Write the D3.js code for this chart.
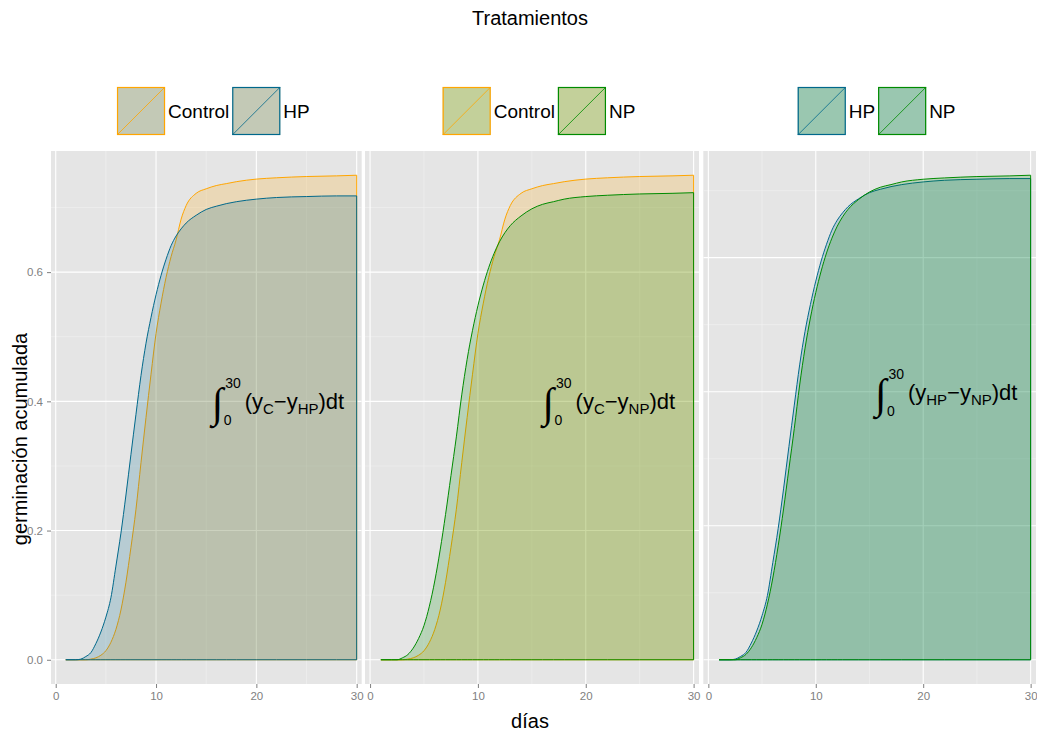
<!DOCTYPE html>
<html>
<head>
<meta charset="utf-8">
<script src="https://cdn.jsdelivr.net/npm/d3@7"></script>
<style>
  body { margin: 0; background: #ffffff; }
  text { font-family: "Liberation Sans", Arial, sans-serif; }
</style>
</head>
<body>
<svg id="chart" width="1037" height="735"></svg>
<script>
// Cumulative germination per treatment (fraction germinated by day)
const days = [1, 2, 2.5, 3, 3.5, 4, 4.5, 5, 5.5, 6, 6.5, 7, 7.5, 8, 8.5, 9, 9.5, 10, 10.5, 11, 11.5, 12, 12.5, 13, 14, 15, 16, 17, 18, 20, 22, 25, 28, 30];
const control = [0, 0, 0, 0, 0.001, 0.003, 0.007, 0.014, 0.027, 0.047, 0.077, 0.12, 0.174, 0.233, 0.305, 0.375, 0.442, 0.505, 0.552, 0.592, 0.624, 0.65, 0.682, 0.703, 0.722, 0.729, 0.734, 0.737, 0.740, 0.744, 0.746, 0.748, 0.749, 0.75];
const hp = [0, 0, 0.001, 0.005, 0.011, 0.025, 0.043, 0.066, 0.096, 0.145, 0.196, 0.255, 0.318, 0.38, 0.44, 0.49, 0.53, 0.565, 0.595, 0.62, 0.641, 0.656, 0.667, 0.676, 0.688, 0.697, 0.702, 0.706, 0.709, 0.713, 0.7155, 0.717, 0.718, 0.718];
const np = [0, 0, 0, 0.003, 0.008, 0.018, 0.033, 0.053, 0.083, 0.122, 0.17, 0.225, 0.285, 0.345, 0.41, 0.465, 0.51, 0.548, 0.58, 0.607, 0.629, 0.647, 0.661, 0.672, 0.687, 0.698, 0.705, 0.709, 0.713, 0.717, 0.719, 0.721, 0.722, 0.723];

const treatments = ["Control", "HP", "NP"];
const subscripts = ["C", "HP", "NP"];
const values = { Control: control, HP: hp, NP: np };
const colors = { Control: "#FFA500", HP: "#00688B", NP: "#008B00" };

// Pairwise comparisons, one per panel
const pairs = [["Control", "HP"], ["Control", "NP"], ["HP", "NP"]];

const xTicks = [0, 10, 20, 30];
const xMinor = [5, 15, 25];
const yTicks = [0, 0.2, 0.4, 0.6];
const yMinor = [0.1, 0.3, 0.5, 0.7];
const yTickLabels = ["0.0", "0.2", "0.4", "0.6"];

const titleText = "Tratamientos";
const xTitle = "días";
const yTitle = "germinación acumulada";

// ---- layout ----
const panelBoxes = [
  { x0: 51, x1: 361.7 },
  { x0: 365, x1: 699 },
  { x0: 703.3, x1: 1036 }
];
const panelTop = 151, panelBottom = 684;
const fillAlpha = 0.2;

const svg = d3.select("#chart");
const subOf = name => subscripts[treatments.indexOf(name)];

pairs.forEach((pair, pi) => {
  const box = panelBoxes[pi];
  const x = d3.scaleLinear().domain([-0.47, 30.5]).range([box.x0, box.x1]);
  const ymax = d3.max(pair, k => d3.max(values[k]));
  const y = d3.scaleLinear().domain([-0.05 * ymax, ymax * 1.05]).range([panelBottom, panelTop]);

  const g = svg.append("g");
  const clipId = "clip" + pi;
  svg.append("clipPath").attr("id", clipId).append("rect")
    .attr("x", box.x0).attr("y", panelTop)
    .attr("width", box.x1 - box.x0).attr("height", panelBottom - panelTop);

  // panel background
  g.append("rect").attr("x", box.x0).attr("y", panelTop)
    .attr("width", box.x1 - box.x0).attr("height", panelBottom - panelTop)
    .attr("fill", "#E5E5E5");

  // grid
  const grid = g.append("g").attr("clip-path", `url(#${clipId})`);
  xMinor.forEach(v => grid.append("line").attr("x1", x(v)).attr("x2", x(v))
    .attr("y1", panelTop).attr("y2", panelBottom).attr("stroke", "#F2F2F2").attr("stroke-width", 0.6));
  yMinor.filter(v => v < y.domain()[1]).forEach(v => grid.append("line").attr("y1", y(v)).attr("y2", y(v))
    .attr("x1", box.x0).attr("x2", box.x1).attr("stroke", "#F2F2F2").attr("stroke-width", 0.6));
  xTicks.forEach(v => grid.append("line").attr("x1", x(v)).attr("x2", x(v))
    .attr("y1", panelTop).attr("y2", panelBottom).attr("stroke", "#FFFFFF").attr("stroke-width", 1.1));
  yTicks.forEach(v => grid.append("line").attr("y1", y(v)).attr("y2", y(v))
    .attr("x1", box.x0).attr("x2", box.x1).attr("stroke", "#FFFFFF").attr("stroke-width", 1.1));

  // cumulative areas
  const area = d3.area()
    .x((d, i) => x(days[i]))
    .y0(() => y(0))
    .y1(d => y(d))
    .curve(d3.curveMonotoneX);
  const marks = g.append("g").attr("clip-path", `url(#${clipId})`);
  pair.forEach(k => {
    marks.append("path")
      .datum(values[k])
      .attr("d", area)
      .attr("fill", colors[k]).attr("fill-opacity", fillAlpha)
      .attr("stroke", colors[k]).attr("stroke-width", 1)
      .attr("stroke-linejoin", "round");
  });

  // x axis
  const xa = svg.append("g").attr("transform", `translate(0,${panelBottom})`)
    .call(d3.axisBottom(x).tickValues(xTicks).tickSize(4).tickPadding(4).tickFormat(d3.format("d")));
  xa.select(".domain").remove();
  xa.selectAll(".tick line").attr("stroke", "#7F7F7F");
  xa.selectAll(".tick text").attr("fill", "#7F7F7F").style("font-size", "11.5px")
    .style("font-family", "'Liberation Sans', Arial, sans-serif");

  // y axis only on the first panel
  if (pi === 0) {
    const ya = svg.append("g").attr("transform", `translate(${box.x0},0)`)
      .call(d3.axisLeft(y).tickValues(yTicks).tickSize(4).tickPadding(4)
        .tickFormat((d, i) => yTickLabels[i]));
    ya.select(".domain").remove();
    ya.selectAll(".tick line").attr("stroke", "#7F7F7F");
    ya.selectAll(".tick text").attr("fill", "#7F7F7F").style("font-size", "11.5px")
      .style("font-family", "'Liberation Sans', Arial, sans-serif");
  }

  // integral annotation centred at (22, 0.4)
  const f = svg.append("g");
  const integ = f.append("text").text("\u222B")
    .attr("x", 0).attr("y", 8)
    .style("font-family", "'Liberation Serif', serif").style("font-size", "42px");
  const iw = integ.node().getComputedTextLength();
  const sup = f.append("text").text("30").attr("x", iw + 2).attr("y", -21).style("font-size", "14px");
  f.append("text").text("0").attr("x", iw + 0.5).attr("y", 16).style("font-size", "14px");
  let cx = Math.max(33, iw + 2 + sup.node().getComputedTextLength() + 1);
  const pieces = [
    ["(y", 22, 0], [subOf(pair[0]), 15, 5], ["\u2212y", 22, 0], [subOf(pair[1]), 15, 5], [")dt", 22, 0]
  ];
  pieces.forEach(([t, fs, dy]) => {
    const el = f.append("text").text(t).attr("x", cx).attr("y", dy).style("font-size", fs + "px");
    cx += el.node().getComputedTextLength();
  });
  const bb = f.node().getBBox();
  f.attr("transform", `translate(${x(22) - (bb.x + bb.width / 2)},${y(0.4) + 8})`);

  // legend above the panel
  const lg = svg.append("g");
  const keySize = 48, gap = 3;
  let lx = 0;
  pair.forEach(k => {
    const key = lg.append("g").attr("transform", `translate(${lx},0)`);
    key.append("rect").attr("width", keySize).attr("height", keySize).attr("fill", "#F2F2F2");
    pair.forEach(p => key.append("rect").attr("width", keySize).attr("height", keySize)
      .attr("fill", colors[p]).attr("fill-opacity", fillAlpha));
    key.append("line").attr("x1", 0).attr("y1", keySize).attr("x2", keySize).attr("y2", 0)
      .attr("stroke", colors[k]).attr("stroke-width", 0.8);
    key.append("rect").attr("x", 0.5).attr("y", 0.5).attr("width", keySize - 1).attr("height", keySize - 1)
      .attr("fill", "none").attr("stroke", colors[k]).attr("stroke-width", 1.2);
    lx += keySize + gap;
    const t = lg.append("text").text(k).attr("x", lx).attr("y", keySize / 2)
      .attr("dominant-baseline", "central").style("font-size", "19px").attr("fill", "#000");
    lx += t.node().getComputedTextLength() + gap;
  });
  const lw = lx - gap;
  lg.attr("transform", `translate(${(box.x0 + box.x1) / 2 + 7 - lw / 2},87)`);
});

// titles
svg.append("text").text(titleText).attr("x", 530).attr("y", 25)
  .attr("text-anchor", "middle").style("font-size", "20px");
svg.append("text").text(xTitle).attr("x", 530).attr("y", 728)
  .attr("text-anchor", "middle").style("font-size", "20px");
svg.append("text").text(yTitle)
  .attr("transform", "translate(27,439) rotate(-90)")
  .attr("text-anchor", "middle").style("font-size", "20px");
</script>
</body>
</html>
